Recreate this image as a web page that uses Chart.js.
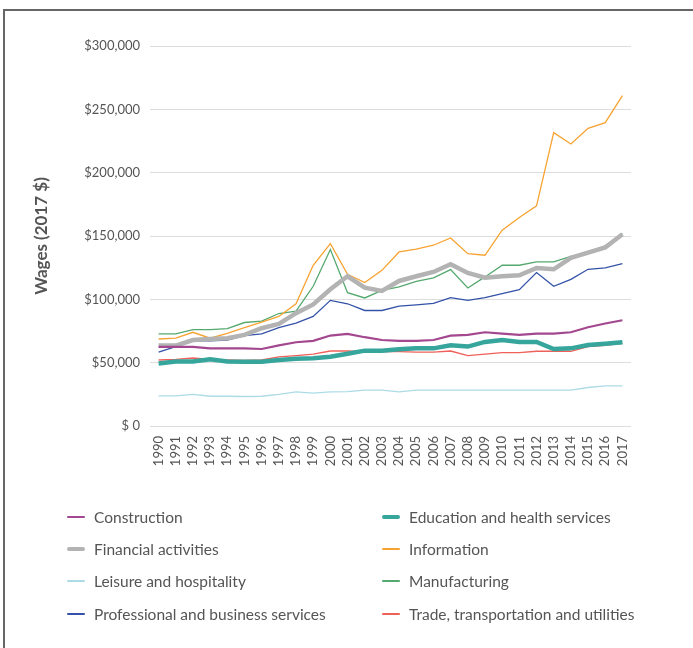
<!DOCTYPE html>
<html>
<head>
<meta charset="utf-8">
<script src="https://cdn.jsdelivr.net/npm/chart.js@4/dist/chart.umd.min.js"></script>
<style>
  html, body { margin: 0; padding: 0; background: #fff; }
  body { width: 693px; height: 648px; position: relative; overflow: hidden; font-family: Lato, "Open Sans", sans-serif; }
  #frame { position: absolute; left: 3px; top: 9px; width: 720px; height: 700px; border: 2px solid #666; box-sizing: border-box; }
  #wrap { position: absolute; left: 0; top: 0; width: 693px; height: 490px; }
  #legend { position: absolute; left: 0; top: 0; width: 693px; height: 648px; pointer-events: none; }
  .item { position: absolute; height: 20px; display: flex; align-items: center; font-size: 15.5px; color: #555; white-space: nowrap; }
  .sw { display: inline-block; width: 18px; margin-right: 9px; border-radius: 2px; }
</style>
</head>
<body>
<div id="frame"></div>
<div id="wrap"><canvas id="c"></canvas></div>
<div id="legend"></div>
<script>
const years = ["1990","1991","1992","1993","1994","1995","1996","1997","1998","1999","2000","2001","2002","2003","2004","2005","2006","2007","2008","2009","2010","2011","2012","2013","2014","2015","2016","2017"];
const yTicks = [0, 50000, 100000, 150000, 200000, 250000, 300000];

const construction = [62400,62400,62400,61300,61300,61300,60800,63700,66100,67200,71400,72700,70100,67900,67200,67200,67900,71400,71900,74000,73000,71900,73000,73000,74000,78000,80900,83500];
const education = [49400,51000,51000,52600,51000,50800,50800,52100,53100,53400,54700,57100,59500,59500,60500,61300,61300,63700,62700,66400,67900,66400,66400,60800,61300,64000,65000,66100];
const financial = [63500,63500,67900,68700,69300,71900,77200,80600,89100,96000,108000,118200,109200,106600,114500,118200,121600,127700,120800,117100,118200,119000,124800,123700,132700,136900,140900,151400];
const information = [68700,69300,74000,69300,73200,77700,82000,86500,96500,126900,144000,119800,113200,122900,137400,139600,142700,148500,136100,134800,154600,164600,173800,231600,222600,235000,239500,260800];
const leisure = [23800,23800,24900,23500,23500,23300,23500,24900,27000,25900,27000,27200,28300,28300,27000,28300,28300,28300,28300,28300,28300,28300,28300,28300,28300,30400,31700,31700];
const manufacturing = [72700,72700,76100,76100,76900,81700,82800,88800,90700,110300,139300,105300,101100,107100,109800,114200,116900,123500,109000,117700,126900,126900,129500,129500,134000,136900,142200,151900];
const professional = [58400,62700,67200,67200,67900,71400,72700,77700,81200,86500,99200,96500,91200,91200,94700,95700,96800,101300,99200,101300,104500,107600,121100,110300,115800,123700,124800,128200];
const trade = [52100,52600,53700,52600,52100,51800,52100,54500,55500,56800,59200,59200,58700,58700,58700,58400,58400,59200,55500,56800,57900,57900,59000,59000,59000,62700,63700,65300];

const series = [
  { label: "Construction", data: construction, color: "#a3478f", width: 2.2 },
  { label: "Education and health services", data: education, color: "#36a59c", width: 4.5 },
  { label: "Financial activities", data: financial, color: "#b3b3b3", width: 4.5 },
  { label: "Information", data: information, color: "#f7a332", width: 1.3 },
  { label: "Leisure and hospitality", data: leisure, color: "#acdbe6", width: 1.3 },
  { label: "Manufacturing", data: manufacturing, color: "#55a86e", width: 1.3 },
  { label: "Professional and business services", data: professional, color: "#3453a8", width: 1.3 },
  { label: "Trade, transportation and utilities", data: trade, color: "#f0605a", width: 1.3 }
];

const c = document.getElementById('c');
c.width = 693; c.height = 490;
c.style.width = '693px'; c.style.height = '490px';

new Chart(c, {
  type: 'line',
  data: {
    labels: years,
    datasets: series.map(s => ({
      label: s.label, data: s.data, borderColor: s.color, backgroundColor: s.color,
      borderWidth: s.width, pointRadius: 0, tension: 0, fill: false
    }))
  },
  options: {
    responsive: false, animation: false, devicePixelRatio: 1,
    layout: { padding: { top: 46, right: 62, left: 0, bottom: 0 } },
    plugins: { legend: { display: false }, tooltip: { enabled: false } },
    scales: {
      x: {
        offset: true,
        grid: { display: false, drawTicks: false },
        border: { display: false },
        ticks: { minRotation: 90, maxRotation: 90, padding: 10, color: '#555', font: { family: 'Lato', size: 13 }, autoSkip: false },
        afterFit: (s) => { s.height = 490 - 426; }
      },
      y: {
        min: 0, max: 300000,
        afterBuildTicks: (s) => { s.ticks = yTicks.map(v => ({ value: v })); },
        grid: { color: '#dddddd', lineWidth: 1, drawTicks: false },
        border: { display: false },
        ticks: {
          padding: 10, color: '#555', font: { family: 'Lato', size: 13 },
          callback: (v) => v === 0 ? '$ 0' : '$' + Number(v).toLocaleString('en-US')
        },
        title: { display: true, text: 'Wages (2017 $)', color: '#555', font: { family: 'Lato', size: 17, weight: 'bold' }, padding: { top: 31, bottom: 0 } },
        afterFit: (s) => { s.width = 150; }
      }
    }
  }
});

const legend = document.getElementById('legend');
const colX = [67, 382];
const rowY = [517, 549, 581, 614];
series.forEach((s, i) => {
  const d = document.createElement('div');
  d.className = 'item';
  d.style.left = colX[i % 2] + 'px';
  d.style.top = (rowY[Math.floor(i / 2)] - 10) + 'px';
  const sw = document.createElement('span');
  sw.className = 'sw';
  sw.style.height = (s.width > 3 ? 4 : 2) + 'px';
  sw.style.background = s.color;
  d.appendChild(sw);
  d.appendChild(document.createTextNode(s.label));
  legend.appendChild(d);
});
</script>
</body>
</html>
